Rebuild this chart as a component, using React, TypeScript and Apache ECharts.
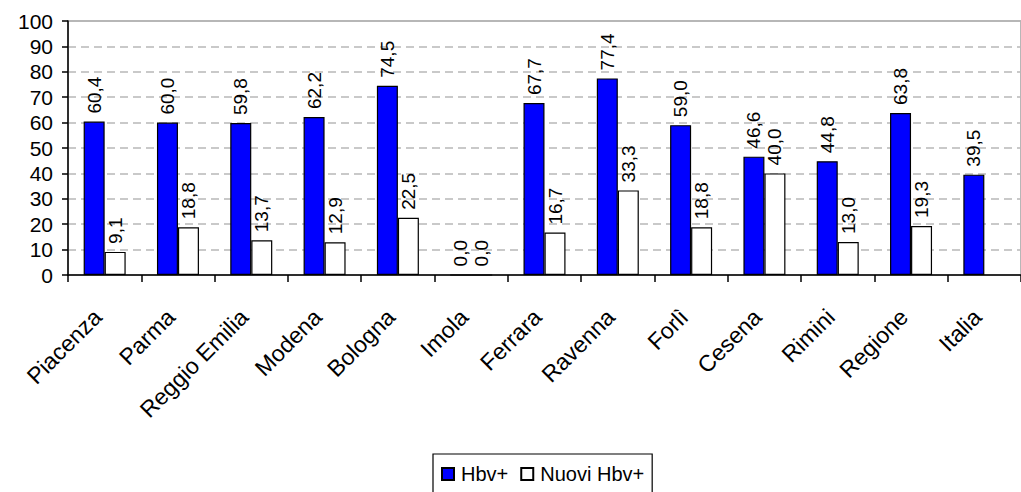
import React, { useEffect, useRef } from "react";
import * as echarts from "echarts";

// Categories (ASL districts, region and national total)
const categories = [
  "Piacenza",
  "Parma",
  "Reggio Emilia",
  "Modena",
  "Bologna",
  "Imola",
  "Ferrara",
  "Ravenna",
  "Forlì",
  "Cesena",
  "Rimini",
  "Regione",
  "Italia",
];

// Percentages per series
const hbvValues: number[] = [60.4, 60.0, 59.8, 62.2, 74.5, 0.0, 67.7, 77.4, 59.0, 46.6, 44.8, 63.8, 39.5];
const nuoviHbvValues: (number | null)[] = [9.1, 18.8, 13.7, 12.9, 22.5, 0.0, 16.7, 33.3, 18.8, 40.0, 13.0, 19.3, null];

const seriesNames = ["Hbv+", "Nuovi Hbv+"];
const yTicks = { min: 0, max: 100, interval: 10 };

const FONT = "'Liberation Sans', Arial, sans-serif";

const fmt = (v: number) => v.toFixed(1).replace(".", ",");

export default function App() {
  const ref = useRef<HTMLDivElement>(null);

  useEffect(() => {
    if (!ref.current) return;
    const chart = echarts.init(ref.current, undefined, { renderer: "svg" });

    const valueLabel = {
      show: true,
      position: "top" as const,
      rotate: 90,
      align: "left" as const,
      verticalAlign: "middle" as const,
      distance: 8,
      color: "#000",
      fontFamily: FONT,
      fontSize: 19,
      formatter: (p: any) => (p.value == null ? "" : fmt(p.value)),
    };

    chart.setOption({
      animation: false,
      backgroundColor: "#fff",
      textStyle: { fontFamily: FONT },
      grid: {
        left: 68,
        top: 21,
        width: 961,
        bottom: 217,
        show: true,
        borderColor: "#a0a0a0",
        borderWidth: 1.5,
        backgroundColor: "transparent",
      },
      legend: {
        data: seriesNames,
        left: 433,
        top: 454,
        orient: "horizontal",
        itemWidth: 12,
        itemHeight: 12,
        itemGap: 12,
        padding: [10, 8, 20, 8],
        borderColor: "#000",
        borderWidth: 1.2,
        icon: "rect",
        textStyle: { fontFamily: FONT, fontSize: 20, color: "#000", padding: [0, 0, 0, 2] },
      },
      xAxis: {
        type: "category",
        data: categories,
        axisLine: { lineStyle: { color: "#000", width: 1.5 } },
        axisTick: { show: true, length: 7, lineStyle: { color: "#000", width: 1.5 }, alignWithLabel: false },
        axisLabel: {
          rotate: 45,
          interval: 0,
          margin: 31,
          padding: [0, 10, 0, 0],
          color: "#000",
          fontFamily: FONT,
          fontSize: 23,
        },
        splitLine: { show: false },
      },
      yAxis: {
        type: "value",
        min: yTicks.min,
        max: yTicks.max,
        interval: yTicks.interval,
        axisLine: { show: true, lineStyle: { color: "#000", width: 1.5 } },
        axisTick: { show: true, length: 6, lineStyle: { color: "#000", width: 1.5 } },
        axisLabel: { margin: 15, color: "#000", fontFamily: FONT, fontSize: 21 },
        splitLine: { show: true, lineStyle: { color: "#b8b8b8", width: 1.6, type: [8, 5] } },
      },
      series: [
        {
          name: seriesNames[0],
          type: "bar",
          data: hbvValues,
          barWidth: 21,
          barGap: "0%",
          itemStyle: { color: "#0000ff", borderColor: "#000", borderWidth: 1.2 },
          label: valueLabel,
        },
        {
          name: seriesNames[1],
          type: "bar",
          data: nuoviHbvValues,
          barWidth: 21,
          barGap: "0%",
          itemStyle: { color: "#ffffff", borderColor: "#000", borderWidth: 1.2 },
          label: valueLabel,
        },
      ],
    });

    return () => chart.dispose();
  }, []);

  return (
    <div
      ref={ref}
      style={{ position: "fixed", left: 0, top: 0, width: 1021, height: 492, background: "#fff" }}
    />
  );
}
